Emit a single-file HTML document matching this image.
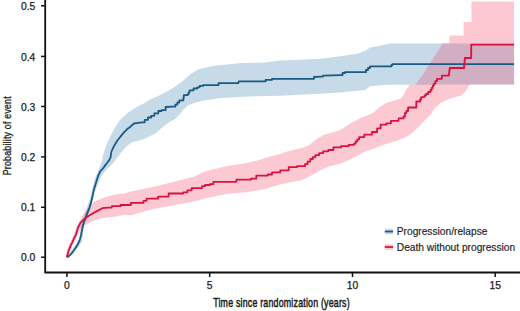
<!DOCTYPE html>
<html><head><meta charset="utf-8"><style>
html,body{margin:0;padding:0;background:#fff;width:520px;height:311px;overflow:hidden}
svg{display:block}
text{font-family:"Liberation Sans",sans-serif;fill:#1a1a1a}
.tk{font-size:10.3px;stroke:#1a1a1a;stroke-width:0.25px}
.lg{font-size:10.2px;stroke:#1a1a1a;stroke-width:0.15px}
.ttl{font-size:12.8px;letter-spacing:0.3px;stroke:#1a1a1a;stroke-width:0.5px}
.ttl2{font-size:11.8px;letter-spacing:0.3px;stroke:#1a1a1a;stroke-width:0.3px}
</style></head><body>
<svg width="520" height="311" viewBox="0 0 520 311">
<rect width="520" height="311" fill="#fff"/>
<polygon points="66.8,257.2 68.0,255.0 70.0,252.0 72.5,249.0 75.0,245.5 78.0,241.5 79.5,238.0 80.2,232.0 80.8,226.0 82.5,220.0 84.5,214.0 86.8,208.0 88.8,202.0 90.3,197.0 91.1,194.2 92.8,186.0 94.7,179.0 97.6,171.7 101.9,161.6 103.0,155.0 107.5,142.0 113.6,130.0 119.6,120.5 125.7,114.5 131.7,110.0 137.7,106.5 143.1,103.8 151.1,99.0 159.2,95.5 168.9,90.5 176.0,86.0 183.4,80.5 190.0,74.5 197.9,69.5 212.3,65.9 226.8,64.5 241.2,63.0 266.5,62.5 272.3,61.5 280.0,60.6 295.0,60.0 320.0,58.8 340.0,56.3 357.5,53.8 365.0,51.0 370.0,47.5 377.5,46.3 389.8,43.6 514.1,43.6 514.1,84.5 387.5,84.8 370.0,86.3 365.0,90.0 340.0,92.5 320.0,93.8 295.0,95.0 280.0,95.8 256.9,96.2 237.7,97.1 218.5,98.3 202.0,101.0 194.6,102.8 188.0,105.5 183.4,109.5 180.0,114.0 175.0,119.0 168.6,122.5 162.2,127.5 155.7,133.2 149.3,136.4 142.9,139.5 137.3,140.9 132.2,142.1 127.0,146.0 123.2,149.9 119.3,155.0 115.4,160.2 112.5,164.0 110.0,166.5 107.5,168.5 102.2,175.1 97.7,183.9 94.2,194.6 93.0,200.0 91.5,205.0 89.5,211.0 87.5,216.5 85.5,221.5 84.0,226.0 83.2,232.0 82.6,238.0 82.0,242.0 79.5,245.5 76.0,249.5 73.0,253.0 70.0,256.0 67.5,258.0 66.8,257.2" fill="#c6dbe7"/>
<polygon points="66.8,257.2 65.8,254.0 67.0,250.0 68.5,246.5 70.0,243.0 72.0,238.5 74.0,234.0 75.5,230.0 77.0,226.0 79.0,221.5 81.5,217.5 83.5,214.3 88.9,206.2 94.3,201.5 101.0,198.8 109.1,196.1 118.6,194.1 124.0,193.4 130.9,191.4 151.8,187.2 172.8,182.0 193.7,176.7 205.0,171.4 225.9,166.2 246.8,163.0 259.4,159.9 270.0,156.5 280.0,154.0 287.2,151.5 294.5,149.8 301.7,148.1 308.9,145.2 316.1,139.5 323.4,135.1 330.6,133.0 340.0,130.0 351.4,123.0 360.0,118.2 366.4,115.7 372.9,113.0 379.3,107.5 385.7,103.3 392.2,101.2 400.9,98.5 403.1,95.5 405.3,91.5 407.5,87.8 409.5,85.0 415.7,84.6 417.7,81.5 420.3,78.0 423.9,73.6 426.5,68.3 429.2,64.7 433.6,57.7 437.5,51.5 440.5,47.0 442.4,43.3 449.4,43.3 449.4,35.4 463.6,35.4 463.6,22.1 471.5,22.1 471.5,1.4 514.1,1.4 514.1,84.5 470.0,84.5 469.0,86.0 465.2,91.7 461.3,95.5 453.6,97.4 447.8,99.4 440.1,103.2 434.3,109.0 430.4,114.8 424.7,120.6 418.9,126.4 415.0,130.3 410.0,135.0 398.9,140.0 384.5,144.4 370.0,150.0 364.3,152.0 351.4,159.0 340.0,163.7 330.6,165.9 323.4,168.8 316.1,173.1 308.9,176.7 301.7,180.3 294.5,181.5 287.2,183.0 280.0,184.5 263.6,189.2 246.8,192.3 225.9,194.0 205.0,198.5 193.7,201.5 172.8,205.5 151.8,209.2 130.9,215.2 124.0,215.0 114.5,216.8 107.8,217.5 101.0,218.2 94.3,220.2 86.2,224.6 82.0,227.0 79.5,231.0 77.5,236.0 75.0,240.5 72.5,245.0 70.5,249.0 69.0,253.0 68.0,256.0 66.8,257.2" fill="rgb(243,47,86)" fill-opacity="0.26"/>
<polyline points="66.8,257.2 68.5,256.4 70.5,254.6 72.5,252.4 74.5,249.6 76.5,246.6 78.3,243.3 79.8,239.8 80.9,235.8 81.8,231.3 82.7,226.8 83.8,222.7 85.7,217.6 87.6,212.4 89.6,207.3 90.9,202.8 92.1,198.3 92.8,194.4 94.0,189.1 95.4,184.8 96.9,179.7 98.3,175.4 99.8,172.5 100.5,171.0 102.7,168.8 104.8,165.9 107.0,163.0 109.2,160.1 110.6,157.2 111.3,152.0 112.8,148.5 115.1,144.2 117.4,140.5 120.4,136.7 124.2,132.2 127.2,129.1 130.2,126.9 134.0,123.5 138.0,122.8 142.2,122.3 144.7,122.3 144.7,119.9 147.9,119.9 147.9,117.5 151.1,117.5 151.1,115.8 154.3,115.8 154.3,113.4 158.3,113.4 158.3,111.0 161.6,111.0 161.6,110.2 165.6,110.2 165.6,107.0 172.0,106.7 175.3,106.7 175.3,104.6 177.3,104.6 177.3,102.5 179.3,102.5 179.3,100.5 182.9,100.4 183.4,100.4 183.4,97.8 183.8,97.8 183.8,95.2 187.7,95.2 187.7,94.2 188.6,94.2 188.6,92.3 189.6,92.3 189.6,90.4 193.5,90.4 193.5,88.5 197.3,88.5 197.3,87.3 199.6,87.3 199.6,85.9 203.1,85.9 203.1,85.2 217.5,85.2 218.5,85.2 218.5,83.2 238.3,83.2 238.8,81.3 264.6,81.3 265.6,81.3 265.6,79.8 272.0,79.8 272.0,78.8 312.5,78.8 314.0,78.8 314.0,77.0 321.5,76.6 323.0,76.6 323.0,75.6 341.2,75.2 342.5,75.2 342.5,73.0 345.0,73.0 345.0,72.2 364.0,72.2 366.0,72.2 366.0,70.0 368.0,70.0 368.0,68.0 370.0,68.0 370.0,66.3 389.8,66.3 391.5,66.3 391.5,65.0 392.5,65.0 392.5,64.1 514.1,64.1" fill="none" stroke="#1a5b86" stroke-width="1.8" stroke-linejoin="round"/>
<polyline points="66.8,257.2 67.4,255.4 68.5,251.2 69.7,248.2 70.9,245.2 72.7,241.7 73.9,238.7 75.7,235.1 76.9,231.5 78.0,227.5 80.6,222.7 83.8,219.5 87.0,217.0 90.9,214.6 96.0,211.6 102.4,208.2 107.8,207.6 111.8,207.6 111.8,206.2 120.5,206.2 120.5,205.0 130.9,205.0 130.9,202.9 143.5,202.9 143.5,200.8 146.6,200.8 146.6,198.7 158.1,198.7 158.1,196.6 168.6,196.6 168.6,193.5 183.2,193.5 183.2,192.4 187.4,192.4 187.4,190.3 191.6,190.3 191.6,188.2 202.0,188.2 202.0,186.2 205.0,186.2 205.0,185.0 210.0,185.0 210.0,184.1 213.4,184.1 213.4,181.8 234.3,181.8 236.4,181.8 236.4,179.7 251.0,179.7 251.0,178.7 256.3,178.7 256.3,175.6 267.8,175.6 267.8,174.5 272.0,174.5 272.0,172.4 280.3,172.4 280.3,170.3 288.7,170.3 288.7,167.2 297.0,167.2 297.0,166.2 305.0,166.2 305.0,164.1 307.6,164.1 307.6,161.6 310.3,161.6 310.3,159.0 312.9,159.0 312.9,157.1 315.4,157.1 315.4,155.1 319.2,155.1 319.2,153.2 323.1,153.2 323.1,151.3 328.3,151.3 328.3,150.0 333.4,150.0 333.4,147.4 341.1,147.4 341.1,146.1 348.8,146.1 348.8,144.8 354.0,144.8 354.0,143.6 355.7,143.6 355.7,141.4 357.4,141.4 357.4,139.3 359.1,139.3 359.1,137.1 364.3,137.1 364.3,134.6 372.0,134.6 372.0,132.0 377.1,132.0 377.1,128.4 380.6,128.4 380.6,124.7 386.3,124.7 386.3,123.3 390.9,123.3 390.9,120.8 398.6,120.8 398.6,118.4 403.6,118.4 403.6,116.5 405.0,116.5 405.0,113.0 406.4,113.0 406.4,111.0 408.1,111.0 408.1,107.5 416.3,107.5 416.3,101.5 420.1,101.5 420.1,99.5 421.2,99.5 421.2,97.1 424.5,97.1 424.5,95.5 426.0,95.5 426.0,94.0 428.2,94.0 428.2,92.0 430.5,92.0 430.5,90.0 431.6,90.0 431.6,87.9 432.7,87.9 432.7,85.7 433.8,85.7 433.8,83.6 435.4,83.6 435.4,81.2 437.0,81.2 437.0,78.8 441.8,78.8 441.8,75.6 448.8,75.6 448.8,74.5 449.1,74.5 449.1,72.3 449.4,72.3 449.4,70.2 449.7,70.2 449.7,68.0 463.9,68.0 464.1,68.0 464.1,65.5 464.4,65.5 464.4,63.0 464.6,63.0 464.6,60.5 464.8,60.5 464.8,58.0 471.2,58.0 471.2,44.7 514.1,44.7" fill="none" stroke="#d8133f" stroke-width="1.8" stroke-linejoin="round"/>
<path d="M45.2,0 V273.4 M44.3,272.5 H520" stroke="#111" stroke-width="1.8" fill="none"/>
<path d="M41,257.2 H45" stroke="#111" stroke-width="1.5"/>
<text x="35.3" y="261.3" text-anchor="end" class="tk">0.0</text>
<path d="M41,207.3 H45" stroke="#111" stroke-width="1.5"/>
<text x="35.3" y="211.4" text-anchor="end" class="tk">0.1</text>
<path d="M41,156.9 H45" stroke="#111" stroke-width="1.5"/>
<text x="35.3" y="161.0" text-anchor="end" class="tk">0.2</text>
<path d="M41,106.5 H45" stroke="#111" stroke-width="1.5"/>
<text x="35.3" y="110.6" text-anchor="end" class="tk">0.3</text>
<path d="M41,56.4 H45" stroke="#111" stroke-width="1.5"/>
<text x="35.3" y="60.5" text-anchor="end" class="tk">0.4</text>
<path d="M41,5.8 H45" stroke="#111" stroke-width="1.5"/>
<text x="35.3" y="9.9" text-anchor="end" class="tk">0.5</text>
<path d="M66.9,273 V277" stroke="#111" stroke-width="1.5"/>
<text x="66.9" y="288.6" text-anchor="middle" class="tk">0</text>
<path d="M209.7,273 V277" stroke="#111" stroke-width="1.5"/>
<text x="209.7" y="288.6" text-anchor="middle" class="tk">5</text>
<path d="M352.5,273 V277" stroke="#111" stroke-width="1.5"/>
<text x="352.5" y="288.6" text-anchor="middle" class="tk">10</text>
<path d="M495.2,273 V277" stroke="#111" stroke-width="1.5"/>
<text x="495.2" y="288.6" text-anchor="middle" class="tk">15</text>
<text x="0" y="0" text-anchor="middle" class="ttl" transform="translate(281.5 307.3) scale(0.69 1)">Time since randomization (years)</text>
<text x="0" y="0" text-anchor="middle" class="ttl2" transform="translate(11.4 135.7) rotate(-90) scale(0.745 1)">Probability of event</text>
<rect x="384.8" y="228.7" width="8.2" height="5.6" fill="#c6dbe7"/><path d="M384.8,231.5 H393" stroke="#1a5b86" stroke-width="1.8"/>
<rect x="384.8" y="244.2" width="8.2" height="5.6" fill="#fcc9d3"/><path d="M384.8,247 H393" stroke="#d8133f" stroke-width="1.8"/>
<text x="396.8" y="235.1" class="lg">Progression/relapse</text>
<text x="396.8" y="250.6" class="lg">Death without progression</text>
</svg>
</body></html>
